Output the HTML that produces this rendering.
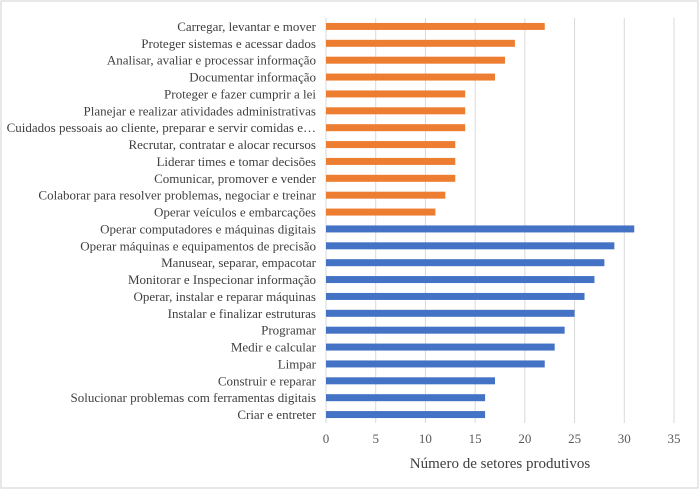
<!DOCTYPE html>
<html><head><meta charset="utf-8"><style>
body{margin:0;background:#fff;}
svg{display:block;font-family:"Liberation Serif",serif;}
</style></head><body>
<svg id="chart" width="700" height="490">
<rect x="1" y="1" width="697" height="487" fill="#fff" stroke="#d0d0d0"/>
<g id="grid"></g><g id="bars"></g><g id="labels"></g><g id="ticks"></g>
<text x="500" y="468" text-anchor="middle" font-size="15" fill="#404040">Número de setores produtivos</text>
</svg>
<script>
const categories=["Carregar, levantar e mover","Proteger sistemas e acessar dados","Analisar, avaliar e processar informação","Documentar informação","Proteger e fazer cumprir a lei","Planejar e realizar atividades administrativas","Cuidados pessoais ao cliente, preparar e servir comidas e…","Recrutar, contratar e alocar recursos","Liderar times e tomar decisões","Comunicar, promover e vender","Colaborar para resolver problemas, negociar e treinar","Operar veículos e embarcações","Operar computadores e máquinas digitais","Operar máquinas e equipamentos de precisão","Manusear, separar, empacotar","Monitorar e Inspecionar informação","Operar, instalar e reparar máquinas","Instalar e finalizar estruturas","Programar","Medir e calcular","Limpar","Construir e reparar ","Solucionar problemas com ferramentas digitais","Criar e entreter"];
const values=[22,19,18,17,14,14,14,13,13,13,12,11,31,29,28,27,26,25,24,23,22,17,16,16];
const groups=["o","o","o","o","o","o","o","o","o","o","o","o","b","b","b","b","b","b","b","b","b","b","b","b"];
const ticks=[0,5,10,15,20,25,30,35];
const NS="http://www.w3.org/2000/svg";
const x0=326,x1=674,yTop=18,yBot=423,xmax=35;
const band=(yBot-yTop)/categories.length;
const xs=v=>x0+v/xmax*(x1-x0);
const yc=i=>yTop+band*(i+0.5);
function mk(t,a,p){const e=document.createElementNS(NS,t);for(const k in a)e.setAttribute(k,a[k]);document.getElementById(p).appendChild(e);return e;}
ticks.forEach(t=>{
 const l=mk("line",{x1:xs(t),x2:xs(t),y1:yTop,y2:yBot,stroke:"#d9d9d9","stroke-width":1},"grid");
 
 
 const tx=mk("text",{x:xs(t),y:443,"text-anchor":"middle","font-size":13,fill:"#595959"},"ticks");
 tx.textContent=t;
 
 
});
categories.forEach((c,i)=>{
 const r=mk("rect",{x:x0,y:yc(i)-3.5,width:xs(values[i])-x0,height:7,fill:groups[i]=="o"?"#ED7D31":"#4472C4"},"bars");
 
 
 const t=mk("text",{x:316,y:yc(i)+4.5,"text-anchor":"end","font-size":13,fill:"#404040"},"labels");
 t.textContent=c;
 
 
});
</script>
</body></html>
